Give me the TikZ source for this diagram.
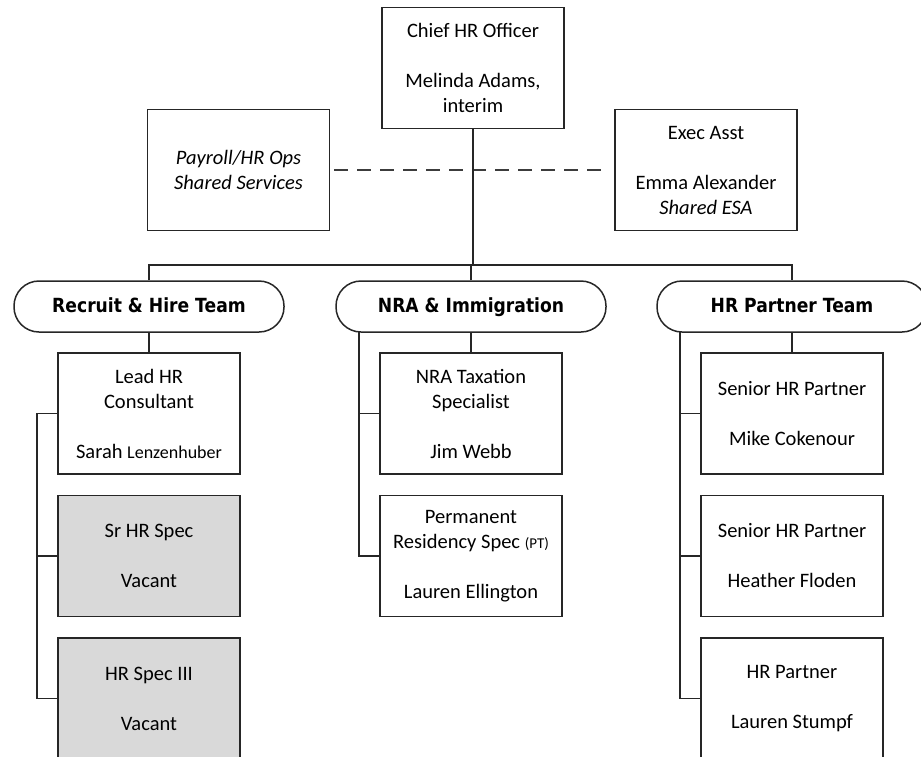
\documentclass[tikz,border=0pt]{standalone}
\usepackage{fontspec}
\setmainfont{Carlito}
\newfontfamily\pillfont{DejaVu Sans}[FakeStretch=0.88]
\usetikzlibrary{positioning}
\definecolor{my_line}{RGB}{38, 38, 38}
\definecolor{my_vacant}{RGB}{217, 217, 217}
\tikzset {
  box/.style = {draw=my_line, line width=1.5pt, fill=white, rectangle, minimum width=182pt, minimum height=121pt, inner sep=0pt, align=center, font=\fontsize{20.5}{25}\selectfont},
  vacant/.style = {box, fill=my_vacant},
  team/.style = {draw=my_line, line width=1.5pt, fill=white, rounded corners=25pt, minimum width=270pt, minimum height=51pt, inner sep=0pt, text height=15pt, text depth=4pt, font=\pillfont\bfseries\fontsize{19.5}{22}\selectfont},
  line/.style = {draw=my_line, line width=1.7pt},
  dashline/.style = {draw=my_line!90, line width=2.4pt, dash pattern=on 14pt off 9pt, shorten <=4pt, shorten >=4pt}
}

\begin{document}
\begin{tikzpicture}[x=1pt, y=-1pt, node distance=20pt]
    \useasboundingbox (0,0) rectangle (921,756);
    \clip (0,0) rectangle (921,756);

    % top level
    \node[box] (chief) at (473,68) {Chief HR Officer\\[25pt]Melinda Adams,\\interim};
    \node[box, font=\fontsize{20.5}{25}\selectfont\itshape] (payroll) at (238.5,170) {Payroll/HR Ops\\Shared Services};
    \node[box] (exec) at (706,170) {Exec Asst\\[25pt]Emma Alexander\\\textit{Shared ESA}};

    % teams
    \node[team] (recruit) at (149,306.5) {Recruit \& Hire Team};
    \node[team] (nra) at (471,306.5) {NRA \& Immigration};
    \node[team] (partner) at (792,306.5) {HR Partner Team};

    % recruit & hire
    \node[box] (lead) at (149,413.5) {Lead HR\\Consultant\\[25pt]Sarah {\fontsize{18}{25}\selectfont Lenzenhuber}};
    \node[vacant, below=of lead] (srspec) {Sr HR Spec\\[25pt]Vacant};
    \node[vacant, below=of srspec] (specthree) {HR Spec III\\[25pt]Vacant};

    % nra & immigration
    \node[box] (taxation) at (471,413.5) {NRA Taxation\\Specialist\\[25pt]Jim Webb};
    \node[box, below=of taxation] (residency) {Permanent\\Residency Spec {\fontsize{15}{25}\selectfont(PT)}\\[25pt]Lauren Ellington};

    % hr partner
    \node[box] (senior1) at (792,413.5) {Senior HR Partner\\[25pt]Mike Cokenour};
    \node[box, below=of senior1] (senior2) {Senior HR Partner\\[25pt]Heather Floden};
    \node[box, below=of senior2] (partner3) {HR Partner\\[25pt]Lauren Stumpf};

    \coordinate (busL) at (149,265);
    \coordinate (busR) at (792,265);
    \coordinate (nraside) at (359,332);
    \coordinate (partnerside) at (680,332);

    \draw[dashline] (payroll.east) -- (exec.west);
    \draw[line] (chief.south) -- (chief.south |- busL);
    \draw[line] (recruit.north) -- (busL) -- (busR) -- (partner.north);
    \draw[line] (nra.north) -- (nra.north |- busL);

    \draw[line] (recruit) -- (lead);
    \draw[line] (lead.west) -- ++(-20,0) |- (specthree.west);
    \draw[line] (srspec.west) -- ++(-20,0);

    \draw[line] (nra) -- (taxation);
    \draw[line] (nraside) |- (residency.west);
    \draw[line] (taxation.west) -- (taxation.west -| nraside);

    \draw[line] (partner) -- (senior1);
    \draw[line] (partnerside) |- (partner3.west);
    \draw[line] (senior1.west) -- (senior1.west -| partnerside);
    \draw[line] (senior2.west) -- (senior2.west -| partnerside);

\end{tikzpicture}
\end{document}
